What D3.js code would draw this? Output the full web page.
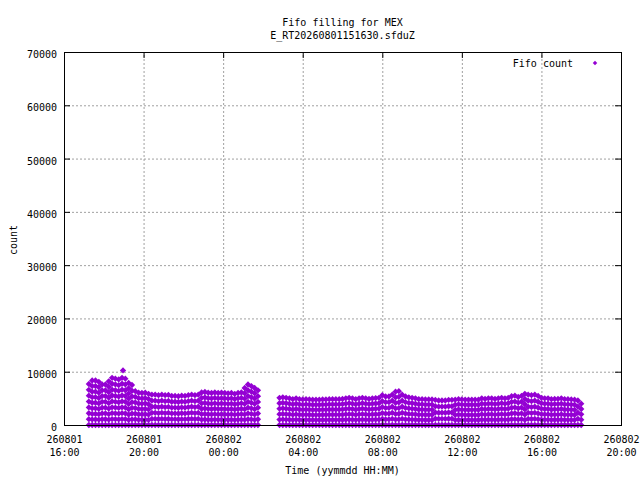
<!DOCTYPE html>
<html lang="en">
<head>
  <meta charset="utf-8"/>
  <script src="https://d3js.org/d3.v7.min.js"></script>
  <style>
    body { margin: 0; background: #fff; }
    svg text {
      font-family: "DejaVu Sans Mono", "Liberation Mono", monospace;
      font-size: 10px;
      fill: #000;
    }
    .grid line { stroke: #a0a0a0; stroke-width: 1px; stroke-dasharray: 2,2; }
    .grid path { display: none; }
    .axis path { display: none; }
    .axis line { stroke: #000; stroke-width: 1px; }
    .border { fill: none; stroke: #000; stroke-width: 1px; }
    .pt { fill: #9400d3; }
  </style>
</head>
<body>
<div id="chart"></div>
<script>
  // Peak fifo count per 10 minute sample
  const sampleMinutes = 10;
  const seg1Start = "2026-08-01T17:15";
  const seg1Peaks = [7700, 8350, 8350, 8100, 7600, 7600, 8200, 8850, 8700, 8550,
                     8850, 8700, 7900, 7500, 6350, 6050, 6000, 6050, 5850, 5700,
                     5700, 5600, 5700, 5600, 5650, 5450, 5450, 5400, 5500, 5450,
                     5600, 5700, 5600, 5700, 6100, 6200, 6050, 6000, 6100, 6000,
                     6050, 6000, 5950, 6000, 5850, 6000, 6100, 6950, 7600, 7300,
                     6950, 6500];
  const seg2Start = "2026-08-02T02:50";
  const seg2Peaks = [5100, 5200, 5100, 5000, 4850, 5000, 4850, 4800, 4850, 4800,
                     4750, 4750, 4750, 4800, 4800, 4850, 4850, 4850, 4850, 4900,
                     5000, 5100, 5000, 4850, 5000, 5100, 5000, 4900, 5000, 5050,
                     5100, 5600, 5350, 5350, 5700, 6250, 6350, 5700, 5350, 5200,
                     5100, 5000, 4850, 4850, 4800, 4800, 4800, 4700, 4600, 4600,
                     4600, 4700, 4700, 4750, 4850, 4800, 4750, 4750, 4750, 4750,
                     4750, 5000, 4900, 5000, 5000, 4900, 5000, 5100, 5000, 5100,
                     5400, 5500, 5250, 5450, 5850, 5700, 5600, 5700, 5450, 5100,
                     5000, 5000, 4850, 4900, 4900, 5000, 4850, 4850, 4800, 4750,
                     4600, 4000];
  // fill levels are spaced about this many counts apart
  const levelStep = 1050;
  // isolated points above the band
  const spikeTimes = ["2026-08-01T18:58"];
  const spikeCounts = [10250];

  const xDomain = ["2026-08-01T16:00", "2026-08-02T20:00"];
  const xTickTimes = ["2026-08-01T16:00", "2026-08-01T20:00", "2026-08-02T00:00",
                      "2026-08-02T04:00", "2026-08-02T08:00", "2026-08-02T12:00",
                      "2026-08-02T16:00", "2026-08-02T20:00"];
  const yTicks = [0, 10000, 20000, 30000, 40000, 50000, 60000, 70000];

  const width = 640, height = 480;
  const plotL = 64, plotR = 621, plotT = 52, plotB = 425;
  const ticLen = 6;

  const parse = d3.timeParse("%Y-%m-%dT%H:%M");
  const fmtDay = d3.timeFormat("%y%m%d");
  const fmtHM = d3.timeFormat("%H:%M");

  const x = d3.scaleTime().domain(xDomain.map(parse)).range([plotL, plotR]);
  const y = d3.scaleLinear().domain([0, 70000]).range([plotB, plotT]);

  const svg = d3.select("#chart").append("svg")
    .attr("width", width)
    .attr("height", height);

  // grid
  svg.append("g").attr("class", "grid")
    .attr("transform", `translate(0,${plotB})`)
    .call(d3.axisBottom(x).tickValues(xTickTimes.map(parse))
      .tickSize(-(plotB - plotT)).tickFormat(""));
  svg.append("g").attr("class", "grid")
    .attr("transform", `translate(${plotL},0)`)
    .call(d3.axisLeft(y).tickValues(yTicks)
      .tickSize(-(plotR - plotL)).tickFormat(""));

  // build points from the sampled peaks
  const points = [];
  function addSegment(start, peaks) {
    const t0 = parse(start);
    peaks.forEach((peak, i) => {
      const t = d3.timeMinute.offset(t0, i * sampleMinutes);
      const n = Math.max(1, Math.round(peak / levelStep));
      for (let k = 0; k <= n; k++) {
        points.push({t: t, v: peak * k / n});
      }
    });
  }
  addSegment(seg1Start, seg1Peaks);
  addSegment(seg2Start, seg2Peaks);
  spikeTimes.forEach((s, i) => points.push({t: parse(s), v: spikeCounts[i]}));

  // gnuplot style diamond: a square turned 45 degrees
  const diamond = d3.symbol(d3.symbolSquare, 20)();

  svg.append("g")
    .selectAll("path")
    .data(points)
    .enter()
    .append("path")
    .attr("class", "pt")
    .attr("d", diamond)
    .attr("transform", d => `translate(${x(d.t)},${y(d.v)}) rotate(45)`);

  // axes with inward ticks, mirrored on top/right
  const yAx = svg.append("g").attr("class", "axis")
    .attr("transform", `translate(${plotL},0)`)
    .call(d3.axisLeft(y).tickValues(yTicks).tickSize(-ticLen).tickPadding(7)
      .tickFormat(d3.format("d")));
  yAx.selectAll("text").attr("dy", "0.55em");

  svg.append("g").attr("class", "axis")
    .attr("transform", `translate(${plotR},0)`)
    .call(d3.axisRight(y).tickValues(yTicks).tickSize(-ticLen).tickFormat(""));

  const xAx = svg.append("g").attr("class", "axis")
    .attr("transform", `translate(0,${plotB})`)
    .call(d3.axisBottom(x).tickValues(xTickTimes.map(parse)).tickSize(-ticLen));
  xAx.selectAll("text").each(function(d) {
    const t = d3.select(this).text(null).attr("dy", null).attr("y", null);
    t.append("tspan").attr("x", 0).attr("y", 18).text(fmtDay(d));
    t.append("tspan").attr("x", 0).attr("y", 31).text(fmtHM(d));
  });

  svg.append("g").attr("class", "axis")
    .attr("transform", `translate(0,${plotT})`)
    .call(d3.axisTop(x).tickValues(xTickTimes.map(parse)).tickSize(-ticLen).tickFormat(""));

  svg.append("rect").attr("class", "border")
    .attr("x", plotL + 0.5).attr("y", plotT + 0.5)
    .attr("width", plotR - plotL).attr("height", plotB - plotT);

  // titles
  const cx = (plotL + plotR) / 2;
  svg.append("text").attr("x", cx).attr("y", 26).attr("text-anchor", "middle")
    .text("Fifo filling for MEX");
  svg.append("text").attr("x", cx).attr("y", 39).attr("text-anchor", "middle")
    .text("E_RT20260801151630.sfduZ");
  svg.append("text").attr("x", cx).attr("y", 474).attr("text-anchor", "middle")
    .text("Time (yymmdd HH:MM)");
  svg.append("text").attr("transform", "translate(17,240) rotate(-90)")
    .attr("text-anchor", "middle").text("count");

  // legend
  svg.append("text").attr("x", 573).attr("y", 67).attr("text-anchor", "end")
    .text("Fifo count");
  svg.append("path").attr("class", "pt")
    .attr("transform", "translate(595,63) rotate(45)")
    .attr("d", d3.symbol(d3.symbolSquare, 10)());
</script>
</body>
</html>
